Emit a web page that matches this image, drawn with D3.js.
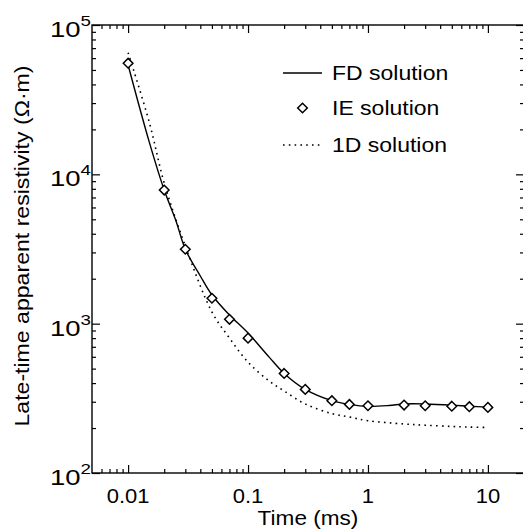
<!DOCTYPE html>
<html>
<head>
<meta charset="utf-8">
<script src="https://cdn.jsdelivr.net/npm/d3@7"></script>
<style>
  html, body { margin: 0; padding: 0; background: #fff; }
  text { font-family: "Liberation Sans", Arial, Helvetica, sans-serif; fill: #000; }
</style>
</head>
<body>
<div id="chart"></div>
<script>
// FD (finite difference) curve
const fdTime = [0.01, 0.015, 0.02, 0.025, 0.03, 0.04, 0.05, 0.07, 0.1, 0.15, 0.2, 0.3, 0.5, 0.7, 1, 1.5, 2, 3, 5, 7, 10];
const fdRho  = [54000, 16500, 7850, 4910, 3150, 2085, 1556, 1143, 865, 597, 464, 363, 305, 288, 279, 283, 290, 290, 285, 280, 276];

// IE (integral equation) points
const ieTime = [0.01, 0.02, 0.03, 0.05, 0.07, 0.1, 0.2, 0.3, 0.5, 0.7, 1, 2, 3, 5, 7, 10];
const ieRho  = [55500, 7850, 3150, 1480, 1070, 800, 464, 363, 305, 288, 282, 285, 282, 280, 278, 275];

// 1D solution
const odTime = [0.01, 0.015, 0.02, 0.03, 0.05, 0.07, 0.1, 0.15, 0.2, 0.3, 0.5, 0.7, 1, 2, 3, 5, 7, 10];
const odRho  = [65300, 22400, 8750, 3310, 1197, 801, 553, 413, 354, 290, 250, 237, 224, 213, 209, 205, 203, 202];

const xMajor = [0.01, 0.1, 1, 10];
const xLabels = ["0.01", "0.1", "1", "10"];
const yMajor = [100, 1000, 10000, 100000];
const yExp = ["2", "3", "4", "5"];

const legendItems = ["FD solution", "IE solution", "1D solution"];

const W = 523, H = 530;
const mLeft = 92, mRight = 524, mTop = 25, mBottom = 473;
const stretch = 1.15; // the glyphs in the figure are a bit wider than Arial

const svg = d3.select("#chart").append("svg")
    .attr("width", W).attr("height", H);

const x = d3.scaleLog().domain([0.005, 20]).range([mLeft, mRight]);
const y = d3.scaleLog().domain([100, 100000]).range([mBottom, mTop]);

// minor ticks
function minors(lo, hi) {
    const out = [];
    for (let p = Math.floor(Math.log10(lo)); p <= Math.ceil(Math.log10(hi)); p++) {
        for (let k = 2; k <= 9; k++) {
            const v = k * Math.pow(10, p);
            if (v > lo * 1.0001 && v < hi * 0.9999) out.push(v);
        }
    }
    return out;
}
const xMinor = minors(0.005, 10.5);
const yMinor = minors(100, 100000);

function drawAxis(gen, tr, vals, size) {
    const g = svg.append("g").attr("transform", tr)
        .call(gen.tickValues(vals).tickSize(size).tickFormat(""));
    g.selectAll("path").attr("stroke", "none");
    g.selectAll("line").attr("stroke", "#000").attr("stroke-width", 1.2);
    return g;
}

drawAxis(d3.axisBottom(x), `translate(0,${mBottom})`, xMajor, -8);
drawAxis(d3.axisBottom(x), `translate(0,${mBottom})`, xMinor, -4);
drawAxis(d3.axisTop(x), `translate(0,${mTop})`, xMajor, -8);
drawAxis(d3.axisTop(x), `translate(0,${mTop})`, xMinor, -4);
drawAxis(d3.axisLeft(y), `translate(${mLeft},0)`, yMajor, -8);
drawAxis(d3.axisLeft(y), `translate(${mLeft},0)`, yMinor, -4);
drawAxis(d3.axisRight(y), `translate(${mRight},0)`, yMajor, -8);
drawAxis(d3.axisRight(y), `translate(${mRight},0)`, yMinor, -4);

// frame
svg.append("rect")
    .attr("x", mLeft).attr("y", mTop)
    .attr("width", mRight - mLeft).attr("height", mBottom - mTop)
    .attr("fill", "none").attr("stroke", "#000").attr("stroke-width", 1.4);

// text helper: widened glyphs
function label(tr, str, size, anchor, sx) {
    return svg.append("text")
        .attr("transform", `${tr} scale(${sx || stretch},1)`)
        .attr("text-anchor", anchor || "start")
        .attr("font-size", size)
        .text(str);
}

// x tick labels
xMajor.forEach((d, i) => {
    label(`translate(${x(d)},${mBottom + 30})`, xLabels[i], 20, "middle", 1.1);
});

// y tick labels 10^n
yMajor.forEach((d, i) => {
    const t = label(`translate(91,${y(d) + 12})`, null, 22, "end", 1.25);
    t.append("tspan").text("10");
    t.append("tspan").attr("font-size", 15).attr("dy", -11).text(yExp[i]);
});

// axis titles
label(`translate(${(mLeft + mRight) / 2},525)`, "Time (ms)", 20, "middle", 1.13);
label(`translate(29,246) rotate(-90)`, "Late-time apparent resistivity (\u03A9\u00B7m)", 20, "middle", 1.155);

// curves
const line = d3.line().x(d => x(d[0])).y(d => y(d[1])).curve(d3.curveCatmullRom.alpha(0.5));

svg.append("path")
    .datum(odTime.map((t, i) => [t, odRho[i]]))
    .attr("d", line)
    .attr("fill", "none").attr("stroke", "#000")
    .attr("stroke-width", 1.6).attr("stroke-dasharray", "1.6,4.2");

svg.append("path")
    .datum(fdTime.map((t, i) => [t, fdRho[i]]))
    .attr("d", line)
    .attr("fill", "none").attr("stroke", "#000").attr("stroke-width", 1.4);

const diamond = "M0,-4.8L4.8,0L0,4.8L-4.8,0Z";
svg.append("g").selectAll("path")
    .data(ieTime.map((t, i) => [t, ieRho[i]]))
    .join("path")
    .attr("transform", d => `translate(${x(d[0])},${y(d[1])})`)
    .attr("d", diamond)
    .attr("fill", "#fff").attr("stroke", "#000").attr("stroke-width", 1.5);

// legend
const lx0 = 283, lx1 = 322, ly = [73, 108, 145];
svg.append("line").attr("x1", lx0).attr("x2", lx1).attr("y1", ly[0]).attr("y2", ly[0])
    .attr("stroke", "#000").attr("stroke-width", 1.4);
svg.append("path").attr("transform", `translate(${(lx0 + lx1) / 2},${ly[1]})`)
    .attr("d", diamond).attr("fill", "#fff").attr("stroke", "#000").attr("stroke-width", 1.5);
svg.append("line").attr("x1", lx0).attr("x2", lx1).attr("y1", ly[2]).attr("y2", ly[2])
    .attr("stroke", "#000").attr("stroke-width", 1.6).attr("stroke-dasharray", "1.6,4.2");
legendItems.forEach((d, i) => {
    label(`translate(332,${ly[i] + 7})`, d, 20, "start");
});
</script>
</body>
</html>
